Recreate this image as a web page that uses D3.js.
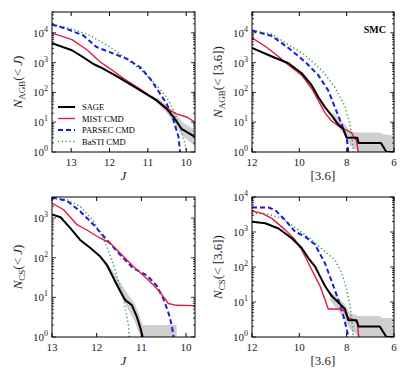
<!DOCTYPE html>
<html>
<head>
<meta charset="UTF-8">
<script src="https://d3js.org/d3.v7.min.js"></script>
<style>
  body { margin: 0; background: #fff; }
  svg { font-family: "Liberation Serif", "DejaVu Serif", serif; }
  .tick-label { font-size: 11px; fill: #222; }
  .axis-title { font-size: 13px; fill: #222; }
</style>
</head>
<body>
<div id="chart"></div>
<script>
// ---- data ----
// top-left: N_AGB(<J)
const agbJ_sageX   = [13.5, 12.98, 12.68, 12.42, 12.24, 11.85, 11.37, 10.77, 10.51, 10.33, 10.12, 9.77];
const agbJ_sageY   = [4500, 2600, 1500, 900, 700, 370, 160, 54, 28, 15, 6, 3.2];
const agbJ_mistX   = [13.5, 12.98, 12.59, 12.24, 11.98, 11.63, 11.2, 10.77, 10.42, 10.25, 9.99, 9.77];
const agbJ_mistY   = [9800, 5900, 2700, 1050, 620, 290, 130, 54, 25, 19, 15, 10];
const agbJ_parsecX = [13.5, 13.11, 12.68, 12.33, 11.98, 11.55, 11.2, 10.94, 10.68, 10.51, 10.33, 10.2, 10.16];
const agbJ_parsecY = [19000, 13500, 8100, 3300, 2200, 1350, 700, 290, 90, 42, 11.5, 3.2, 1];
const agbJ_bastiX  = [13.5, 12.98, 12.5, 11.98, 11.55, 11.11, 10.77, 10.51, 10.33, 10.16, 10.03, 9.99];
const agbJ_bastiY  = [19000, 13500, 8100, 3300, 1350, 480, 170, 69, 25, 6.9, 1.9, 1];
const agbJ_bandX   = [10.9, 10.7, 10.5, 10.3, 10.1, 9.77];
const agbJ_bandLo  = [62, 38, 20, 9, 3.5, 1.6];
const agbJ_bandHi  = [80, 60, 36, 22, 10, 5.5];

// top-right: N_AGB(<[3.6])
const agb36_sageX   = [12, 11.16, 10.46, 9.9, 9.48, 9.2, 8.92, 8.64, 8.36, 8.14, 8.0, 7.55, 7.5, 6.55, 6.32, 6.0];
const agb36_sageY   = [3100, 1600, 950, 440, 175, 70, 32, 17, 8.5, 5.8, 3, 3, 2, 2, 1, 1];
const agb36_mistX   = [12, 11.44, 10.88, 10.46, 9.9, 9.48, 9.2, 8.92, 8.64, 8.36, 8.07, 7.8, 7.58, 7.51];
const agb36_mistY   = [6800, 3550, 1600, 830, 380, 135, 54, 21, 11, 7.6, 5.8, 4.5, 2.3, 1];
const agb36_parsecX = [12, 11.16, 10.46, 9.76, 9.2, 8.78, 8.5, 8.21, 8.0, 7.93];
const agb36_parsecY = [12000, 7800, 3100, 1070, 380, 117, 32, 8.5, 3, 1];
const agb36_bastiX  = [12, 11.16, 10.46, 9.76, 9.06, 8.5, 8.07, 7.86, 7.77, 7.72];
const agb36_bastiY  = [12000, 9000, 4000, 1800, 560, 150, 34, 8.5, 3, 1];
const agb36_bandX   = [8.6, 8.3, 8.05, 7.9, 7.5, 7.0, 6.6, 6.5, 6.0];
const agb36_bandLo  = [13, 6, 3.5, 1.8, 1, 1, 1, 1, 1];
const agb36_bandHi  = [22, 12, 8, 5, 4.5, 4.5, 4.5, 4, 3.5];

// bottom-left: N_CS(<J)
const csJ_sageX   = [13, 12.81, 12.59, 12.37, 12.14, 11.92, 11.77, 11.62, 11.47, 11.36, 11.21, 11.1, 11.03, 10.97];
const csJ_sageY   = [1230, 1050, 560, 280, 175, 107, 66, 30, 14, 8.5, 6.3, 3.2, 1.8, 1];
const csJ_mistX   = [13, 12.74, 12.44, 12.22, 11.92, 11.7, 11.4, 11.18, 10.88, 10.66, 10.47, 10.4, 10.21, 9.8];
const csJ_mistY   = [2400, 1620, 680, 500, 310, 235, 107, 60, 30, 17, 9.3, 7, 6.3, 6.2];
const csJ_parsecX = [13, 12.67, 12.37, 12.07, 11.77, 11.47, 11.18, 10.88, 10.66, 10.51, 10.4, 10.32, 10.28];
const csJ_parsecY = [3300, 2750, 1480, 680, 280, 117, 54, 36, 20, 9.3, 4.3, 2, 1];
const csJ_bastiX  = [13, 12.67, 12.37, 12.07, 11.85, 11.7, 11.55, 11.4, 11.29, 11.27];
const csJ_bastiY  = [3200, 2950, 2000, 830, 310, 117, 36, 9.3, 2, 1];
const csJ_bandX   = [11.85, 11.65, 11.45, 11.3, 11.15, 11.02, 10.97, 10.21];
const csJ_bandLo  = [72, 32, 11, 5, 2.5, 1, 1, 1];
const csJ_bandHi  = [92, 48, 22, 12, 7, 3, 2, 2];

// bottom-right: N_CS(<[3.6])
const cs36_sageX   = [12, 11.44, 10.88, 10.32, 9.9, 9.62, 9.34, 9.13, 8.92, 8.64, 8.36, 8.07, 7.93, 7.58, 7.5, 6.6, 6.32, 6.0];
const cs36_sageY   = [1950, 1780, 1260, 660, 350, 180, 105, 55, 29, 15, 9.8, 6.3, 3, 3, 2, 2, 1, 1];
const cs36_mistX   = [12, 11.58, 11.16, 10.6, 10.18, 9.9, 9.62, 9.34, 9.13, 8.92, 8.78, 8.21, 8.14, 7.93, 7.65, 7.54, 7.49];
const cs36_mistY   = [4000, 3400, 2450, 1150, 600, 310, 130, 55, 29, 12, 6.3, 6.3, 6, 3.6, 3, 2.4, 1];
const cs36_parsecX = [12, 11.3, 11.02, 10.6, 10.18, 9.76, 9.34, 8.92, 8.64, 8.36, 8.14, 8.0, 7.93];
const cs36_parsecY = [5000, 5000, 4200, 2200, 1020, 740, 440, 130, 40, 12, 4, 1.7, 1];
const cs36_bastiX  = [12, 11.44, 10.74, 10.04, 9.48, 8.92, 8.5, 8.21, 8.0, 7.86, 7.77, 7.72];
const cs36_bastiY  = [3400, 3400, 2450, 1150, 600, 280, 160, 69, 23, 7.8, 2.6, 1];
const cs36_bandX   = [8.7, 8.4, 8.1, 7.9, 7.5, 6.6, 6.5, 6.0];
const cs36_bandLo  = [11, 6, 3.5, 1.8, 1, 1, 1, 1];
const cs36_bandHi  = [20, 14, 9, 5, 4, 4, 3.5, 3.5];

const seriesNames = ["SAGE", "MIST CMD", "PARSEC CMD", "BaSTI CMD"];
const jTicks  = [13, 12, 11, 10];
const m36Ticks = [12, 10, 8, 6];

// ---- styles ----
const styles = {
  "SAGE":       { color: "#000000", width: 2,   dash: null },
  "MIST CMD":   { color: "#e3193f", width: 1.4, dash: null },
  "PARSEC CMD": { color: "#1a1adf", width: 2,   dash: "5,3" },
  "BaSTI CMD":  { color: "#2f9a5c", width: 1.5, dash: "1.2,2.6" }
};

const svg = d3.select("#chart").append("svg")
  .attr("width", 415).attr("height", 374);

const zip = (xs, ys) => xs.map((x, i) => ({ x: x, y: ys[i] }));

const panels = [
  { id: "p1", left: 52, top: 12, w: 143, h: 140, xDom: [13.5, 9.77], yDom: [1, 5e4], xTicks: jTicks,
    sub: "AGB", xvar: "J",
    series: [zip(agbJ_sageX, agbJ_sageY), zip(agbJ_mistX, agbJ_mistY), zip(agbJ_parsecX, agbJ_parsecY), zip(agbJ_bastiX, agbJ_bastiY)],
    band: agbJ_bandX.map((x, i) => ({ x: x, lo: agbJ_bandLo[i], hi: agbJ_bandHi[i] })), legend: true },
  { id: "p2", left: 252, top: 12, w: 142, h: 140, xDom: [12, 6], yDom: [1, 5e4], xTicks: m36Ticks,
    sub: "AGB", xvar: "[3.6]",
    series: [zip(agb36_sageX, agb36_sageY), zip(agb36_mistX, agb36_mistY), zip(agb36_parsecX, agb36_parsecY), zip(agb36_bastiX, agb36_bastiY)],
    band: agb36_bandX.map((x, i) => ({ x: x, lo: agb36_bandLo[i], hi: agb36_bandHi[i] })), smc: true },
  { id: "p3", left: 52, top: 197, w: 143, h: 140, xDom: [13, 9.8], yDom: [1, 3400], xTicks: jTicks,
    sub: "CS", xvar: "J",
    series: [zip(csJ_sageX, csJ_sageY), zip(csJ_mistX, csJ_mistY), zip(csJ_parsecX, csJ_parsecY), zip(csJ_bastiX, csJ_bastiY)],
    band: csJ_bandX.map((x, i) => ({ x: x, lo: csJ_bandLo[i], hi: csJ_bandHi[i] })) },
  { id: "p4", left: 252, top: 197, w: 142, h: 140, xDom: [12, 6], yDom: [1, 1e4], xTicks: m36Ticks,
    sub: "CS", xvar: "[3.6]",
    series: [zip(cs36_sageX, cs36_sageY), zip(cs36_mistX, cs36_mistY), zip(cs36_parsecX, cs36_parsecY), zip(cs36_bastiX, cs36_bastiY)],
    band: cs36_bandX.map((x, i) => ({ x: x, lo: cs36_bandLo[i], hi: cs36_bandHi[i] })) }
];

panels.forEach(p => {
  const g = svg.append("g").attr("transform", `translate(${p.left},${p.top})`);
  const x = d3.scaleLinear().domain(p.xDom).range([0, p.w]);
  const y = d3.scaleLog().domain(p.yDom).range([p.h, 0]);

  g.append("clipPath").attr("id", "clip-" + p.id)
    .append("rect").attr("width", p.w).attr("height", p.h);
  const plot = g.append("g").attr("clip-path", `url(#clip-${p.id})`);

  // uncertainty band
  plot.append("path")
    .datum(p.band)
    .attr("fill", "#cfcfcf")
    .attr("d", d3.area().x(d => x(d.x)).y0(d => y(d.lo)).y1(d => y(d.hi)));

  // draw order: basti, parsec, mist, sage on top
  [3, 2, 1, 0].forEach(i => {
    const st = styles[seriesNames[i]];
    plot.append("path")
      .datum(p.series[i])
      .attr("fill", "none")
      .attr("stroke", st.color)
      .attr("stroke-width", st.width)
      .attr("stroke-dasharray", st.dash)
      .attr("stroke-linejoin", "round")
      .attr("d", d3.line().x(d => x(d.x)).y(d => y(d.y)));
  });

  // frame
  g.append("rect").attr("width", p.w).attr("height", p.h)
    .attr("fill", "none").attr("stroke", "#000").attr("stroke-width", 1);

  // x ticks (inward, bottom and top)
  p.xTicks.forEach(t => {
    const xx = x(t);
    g.append("line").attr("x1", xx).attr("x2", xx).attr("y1", p.h).attr("y2", p.h - 4).attr("stroke", "#000");
    g.append("line").attr("x1", xx).attr("x2", xx).attr("y1", 0).attr("y2", 4).attr("stroke", "#000");
    g.append("text").attr("class", "tick-label")
      .attr("x", xx).attr("y", p.h + 14).attr("text-anchor", "middle").text(t);
  });

  // y ticks: decades + minor
  const lo = Math.log10(p.yDom[0]), hi = Math.log10(p.yDom[1]);
  for (let e = Math.floor(lo); e <= Math.ceil(hi); e++) {
    for (let k = 1; k <= 9; k++) {
      const v = k * Math.pow(10, e);
      if (v < p.yDom[0] || v > p.yDom[1]) continue;
      const yy = y(v);
      const len = k === 1 ? 4 : 2;
      g.append("line").attr("x1", 0).attr("x2", len).attr("y1", yy).attr("y2", yy).attr("stroke", "#000").attr("stroke-width", 0.8);
      g.append("line").attr("x1", p.w).attr("x2", p.w - len).attr("y1", yy).attr("y2", yy).attr("stroke", "#000").attr("stroke-width", 0.8);
      if (k === 1) {
        const t = g.append("text").attr("class", "tick-label")
          .attr("x", -4).attr("y", yy + 4).attr("text-anchor", "end");
        t.append("tspan").text("10");
        t.append("tspan").attr("dy", -5).attr("font-size", "8px").text(e);
      }
    }
  }

  // y axis title
  const yt = g.append("text").attr("class", "axis-title")
    .attr("transform", `translate(-30,${p.h / 2}) rotate(-90)`)
    .attr("text-anchor", "middle");
  yt.append("tspan").attr("font-style", "italic").text("N");
  yt.append("tspan").attr("dy", 3).attr("font-size", "9px").text(p.sub);
  yt.append("tspan").attr("dy", -3).text("(< ");
  if (p.xvar === "J") yt.append("tspan").attr("font-style", "italic").text("J");
  else yt.append("tspan").text("[3.6]");
  yt.append("tspan").text(")");

  // x axis title
  g.append("text").attr("class", "axis-title")
    .attr("x", p.w / 2).attr("y", p.h + 28).attr("text-anchor", "middle")
    .attr("font-style", p.xvar === "J" ? "italic" : "normal")
    .text(p.xvar);

  if (p.smc) {
    g.append("text").attr("x", p.w - 8).attr("y", 21).attr("text-anchor", "end")
      .attr("font-size", "10px").attr("font-weight", "bold").text("SMC");
  }

  if (p.legend) {
    seriesNames.forEach((name, i) => {
      const st = styles[name];
      const ly = 95 + i * 11.5;
      g.append("line").attr("x1", 6).attr("x2", 23).attr("y1", ly).attr("y2", ly)
        .attr("stroke", st.color).attr("stroke-width", st.width).attr("stroke-dasharray", st.dash);
      g.append("text").attr("x", 30).attr("y", ly + 3).attr("font-size", "8.5px").text(name);
    });
  }
});
</script>
</body>
</html>
